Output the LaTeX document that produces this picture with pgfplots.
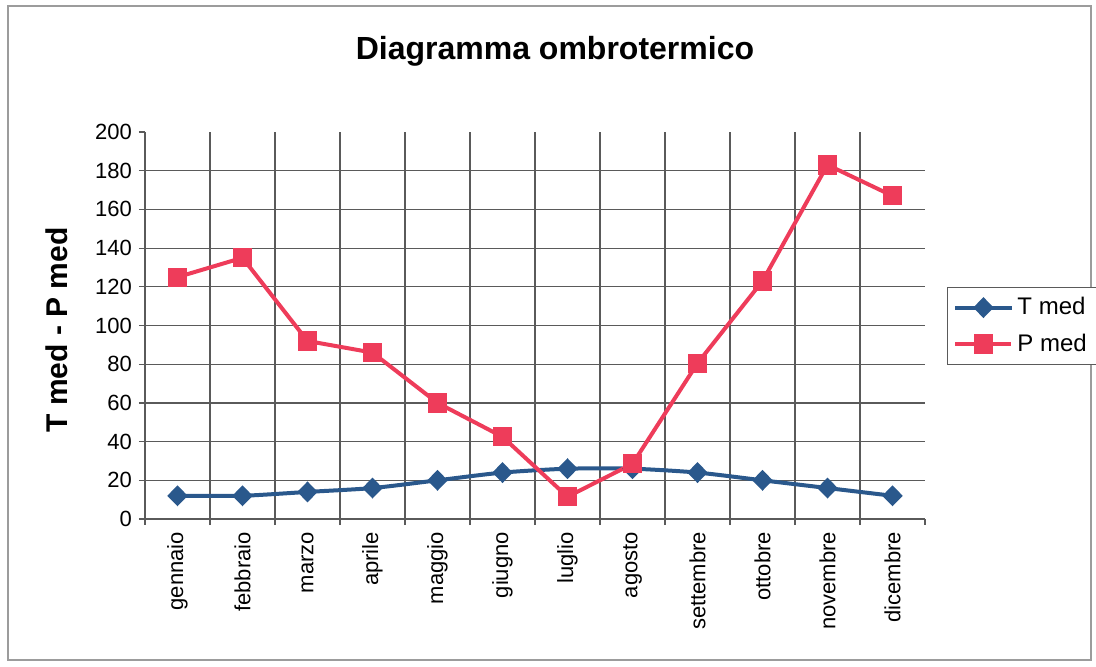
\documentclass[border=0pt]{standalone}
\usepackage{pgfplots}
\pgfplotsset{compat=1.18}
\usepackage{fontspec}
\setmainfont{Liberation Sans}
\definecolor{tcol}{RGB}{42,88,140}
\definecolor{pcol}{RGB}{238,60,90}
\definecolor{gridc}{RGB}{90,90,90}
\begin{document}
\begin{tikzpicture}
\useasboundingbox (-72.5pt,-73.5pt) rectangle (475.5pt,259.5pt);
\draw[gridc!60, line width=0.7pt] (-68.5pt,-70.5pt) rectangle (473pt,256.5pt);
\begin{axis}[
	scale only axis, width=390pt, height=193.5pt,
	xmin=0.5, xmax=12.5, ymin=0, ymax=200,
	axis x line*=bottom, axis y line*=left,
	xtick={1,...,12},
	xticklabels={gennaio,febbraio,marzo,aprile,maggio,giugno,luglio,agosto,settembre,ottobre,novembre,dicembre},
	x tick label style={rotate=90, anchor=east, font=\fontsize{11}{13}\selectfont},
	y tick label style={font=\fontsize{11}{13}\selectfont},
	every major x tick/.append style={draw=none},
	minor xtick={1.5,2.5,...,11.5},
	xminorgrids=true,
	ytick={0,20,...,180}, extra y ticks={200}, extra y tick style={grid=none},
	ymajorgrids=true,
	tick align=outside, major tick length=3pt, minor tick length=3pt,
	grid style={gridc, line width=0.6pt},
	minor grid style={gridc, line width=0.6pt},
	axis line style={gridc, line width=0.7pt},
	tick style={gridc, line width=0.6pt},
	/pgf/number format/assume math mode=true,
	legend style={at={(1.028,0.6)}, anchor=north west, draw=gridc, line width=0.6pt,
		font=\fontsize{12}{14}\selectfont, cells={anchor=west}, row sep=4pt, inner sep=3pt},
	legend image code/.code={\draw[mark repeat=2, mark phase=2, #1] plot coordinates {(0pt,0pt) (14pt,0pt) (28pt,0pt)};},
	clip=false,
]
\addplot[tcol, line width=2pt, smooth, tension=0.4, mark=diamond*, mark size=3.8pt, mark options={solid, fill=tcol, xscale=1.3}]
	coordinates {(1,12) (2,12) (3,14) (4,16) (5,20) (6,24) (7,26) (8,26) (9,24) (10,20) (11,16) (12,12)};
\addlegendentry{T med}
\addplot[pcol, line width=2pt, mark=square*, mark size=3.8pt, mark options={solid, fill=pcol}]
	coordinates {(1,125) (2,135) (3,92) (4,86) (5,60) (6,42.5) (7,11.5) (8,28.5) (9,80.5) (10,123) (11,183) (12,167)};
\addlegendentry{P med}
\draw[gridc, line width=0.6pt] (axis cs:0.5,0) -- ([yshift=-3pt]axis cs:0.5,0);
\draw[gridc, line width=0.6pt] (axis cs:12.5,0) -- ([yshift=-3pt]axis cs:12.5,0);
\end{axis}
\node[font=\bfseries\fontsize{16}{19}\selectfont] at (205pt,234pt) {Diagramma ombrotermico};
\node[font=\bfseries\fontsize{15}{18}\selectfont, rotate=90] at (-44pt,94.5pt) {T med - P med};
\end{tikzpicture}
\end{document}
